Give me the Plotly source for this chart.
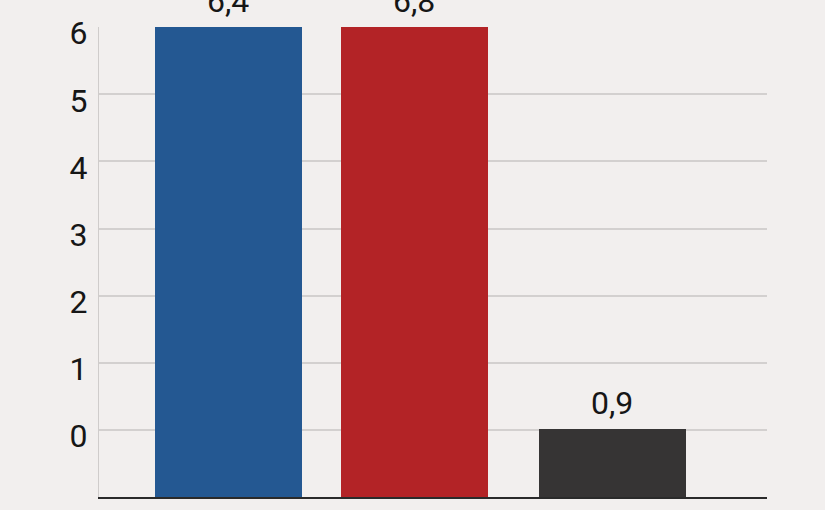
import plotly.graph_objects as go

# data
categories = ["A", "B", "C"]
values = [6.4, 6.8, 0.9]
tick_values = [0, 1, 2, 3, 4, 5, 6]
tick_labels = ["0", "1", "2", "3", "4", "5", "6"]

# styles
bar_colors = ["#245892", "#b32326", "#363434"]
bar_offsets = [-0.383, -0.414, -0.383]
bg = "#f2efee"
grid = "#d3d0cf"
label_font = dict(family="Roboto", size=32, color="#161616")
tick_font = dict(family="Roboto", size=32, color="#161616")

y_top = 6.225  # values above this are cut off at the top

fig = go.Figure()
# empty trace so the grid axis gets drawn
fig.add_trace(go.Scatter(
    x=categories, y=[None] * len(categories), yaxis="y",
    mode="markers", hoverinfo="skip", showlegend=False,
))
fig.add_trace(go.Bar(
    x=categories, y=values, yaxis="y2",
    width=0.766, offset=bar_offsets,
    marker=dict(color=bar_colors, line_width=0),
    hoverinfo="skip", showlegend=False,
))

# value labels, sitting on the bar or on the top edge if the bar is cut
for i, (c, v) in enumerate(zip(categories, values)):
    fig.add_annotation(
        x=c, y=min(v, y_top), xref="x", yref="y2",
        text=f"{v:.1f}".replace(".", ","),
        showarrow=False, yanchor="bottom", yshift=5,
        xshift=(bar_offsets[i] + 0.383) * 192,
        font=label_font,
    )

fig.update_layout(
    width=825, height=510,
    margin=dict(l=99, r=58, t=27, b=13, autoexpand=False),
    paper_bgcolor=bg, plot_bgcolor=bg,
    font=tick_font,
    bargap=0,
    xaxis=dict(
        type="category", range=[-0.674, 2.805],
        showticklabels=False, ticks="", showgrid=False,
        showline=True, linecolor="#2a2a2a", linewidth=2,
        fixedrange=True, automargin=False,
    ),
    # grid and tick labels
    yaxis=dict(
        range=[-1, 6.003], tickvals=tick_values, ticktext=tick_labels,
        showgrid=True, gridcolor=grid, gridwidth=1.5, zeroline=False,
        showline=True, linecolor="#cfcccb", linewidth=1,
        ticks="", ticklabelstandoff=4, ticklabelshift=6, tickfont=tick_font,
        fixedrange=True, automargin=False,
    ),
    # value scale of the bars
    yaxis2=dict(
        overlaying="y", side="left", anchor="x",
        range=[0, y_top], showticklabels=False, showgrid=False,
        zeroline=False, showline=False, fixedrange=True,
    ),
)

fig.write_html(
    "out.html",
    config=dict(displayModeBar=False),
    post_script="document.body.style.margin='0';document.body.style.overflow='hidden';",
)
